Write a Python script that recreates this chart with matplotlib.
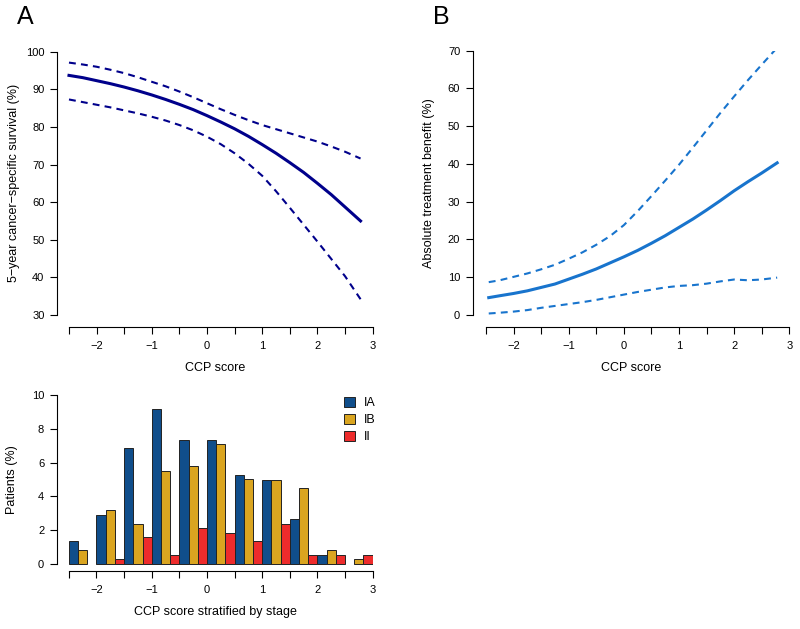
import numpy as np
import matplotlib.pyplot as plt
from matplotlib.patches import Patch

plt.rcParams['font.family'] = ['Liberation Sans', 'DejaVu Sans']

# panel A: 5-year cancer-specific survival vs CCP score
ccp_a = [-2.5, -2.25, -2.0, -1.75, -1.5, -1.25, -1.0, -0.75, -0.5, -0.25, 0.0,
         0.25, 0.5, 0.75, 1.0, 1.25, 1.5, 1.75, 2.0, 2.25, 2.5, 2.78]
surv_mid = [93.7, 93.1, 92.3, 91.5, 90.6, 89.6, 88.5, 87.3, 86.0, 84.6, 83.0,
            81.3, 79.5, 77.5, 75.3, 73.0, 70.5, 67.9, 65.0, 62.0, 58.7, 55.0]
surv_hi = [97.1, 96.6, 96.0, 95.2, 94.3, 93.2, 92.0, 90.8, 89.4, 87.9, 86.3,
           84.7, 83.2, 81.8, 80.5, 79.4, 78.3, 77.2, 76.1, 74.8, 73.4, 71.6]
surv_lo = [87.3, 86.6, 85.9, 85.2, 84.4, 83.6, 82.7, 81.7, 80.5, 79.1, 77.4,
           75.4, 73.0, 70.2, 67.0, 62.9, 58.5, 54.0, 49.5, 44.9, 40.3, 34.2]

# panel B: absolute treatment benefit vs CCP score
ccp_b = [-2.45, -2.25, -2.0, -1.75, -1.5, -1.25, -1.0, -0.75, -0.5, -0.25, 0.0,
         0.25, 0.5, 0.75, 1.0, 1.25, 1.5, 1.75, 2.0, 2.25, 2.5, 2.78]
benefit_mid = [4.6, 5.1, 5.7, 6.4, 7.3, 8.2, 9.5, 10.8, 12.2, 13.8, 15.4,
               17.1, 19.0, 21.0, 23.2, 25.4, 27.8, 30.3, 32.9, 35.3, 37.6, 40.3]
benefit_hi = [8.7, 9.2, 10.1, 11.0, 12.1, 13.3, 14.9, 16.6, 18.6, 20.9, 23.8,
              27.5, 31.5, 35.6, 39.8, 44.3, 48.9, 53.5, 57.9, 62.2, 66.3, 70.8]
benefit_lo = [0.4, 0.6, 0.9, 1.3, 1.9, 2.4, 2.9, 3.4, 4.0, 4.7, 5.4,
              6.1, 6.7, 7.3, 7.7, 7.9, 8.3, 8.9, 9.4, 9.2, 9.4, 9.9]

# panel C: CCP score histogram by stage (% patients, bins of 0.5)
bin_left = [-2.5, -2.0, -1.5, -1.0, -0.5, 0.0, 0.5, 1.0, 1.5, 2.0, 2.5]
stages = ['IA', 'IB', 'II']
pct_IA = [1.34, 2.9, 6.84, 9.17, 7.36, 7.36, 5.25, 4.99, 2.66, 0.53, 0.0]
pct_IB = [0.81, 3.18, 2.39, 5.52, 5.78, 7.10, 5.01, 4.99, 4.48, 0.81, 0.28]
pct_II = [0.0, 0.28, 1.6, 0.55, 2.11, 1.85, 1.34, 2.39, 0.53, 0.53, 0.53]
stage_colors = ['#104E8B', '#DAA520', '#EE2C2C']

W, H = 800, 629
fig = plt.figure(figsize=(8, 6.29), dpi=100)


def px_axes(x0, y0, x1, y1):
    # pixel box (left, top, right, bottom) -> figure axes
    return fig.add_axes([x0 / W, 1 - y1 / H, (x1 - x0) / W, (y1 - y0) / H])


def style(ax, xb, yb):
    for s in ['top', 'right']:
        ax.spines[s].set_visible(False)
    ax.spines['left'].set_bounds(*yb)
    ax.spines['bottom'].set_bounds(*xb)
    for s in ['left', 'bottom']:
        ax.spines[s].set_linewidth(0.8)
    ax.tick_params(direction='out', length=5, width=0.8, labelsize=8)
    ax.tick_params(axis='x', pad=5)
    ax.tick_params(axis='y', pad=4)
    xt = np.arange(-2.5, 3.01, 0.5)
    ax.set_xticks(xt)
    ax.set_xticklabels([('%d' % t).replace('-', '\u2212') if t == int(t) else '' for t in xt])


def px_label(ax, which, x, y):
    axis = ax.xaxis if which == 'x' else ax.yaxis
    axis.set_label_coords(x / W, 1 - y / H, transform=fig.transFigure)


score_ticks_lim = (-2.5, 3.0)
dash = (3.3, 2.5)

# A
axA = px_axes(57, 51.7, 372.7, 327)
axA.plot(ccp_a, surv_mid, color='#00008B', lw=2.2)
axA.plot(ccp_a, surv_hi, color='#00008B', lw=1.5, dashes=dash)
axA.plot(ccp_a, surv_lo, color='#00008B', lw=1.5, dashes=dash)
axA.set_xlim(-2.717, 3.0)
axA.set_ylim(26.81, 100)
axA.set_yticks(range(30, 101, 10))
style(axA, score_ticks_lim, (30, 100))
axA.set_xlabel('CCP score', fontsize=9)
px_label(axA, 'x', 215, 362)
axA.set_ylabel('5\u2212year cancer\u2212specific survival (%)', fontsize=9)
px_label(axA, 'y', 20, 183)

# B
axB = px_axes(472.7, 50.7, 789.3, 326.7)
axB.plot(ccp_b, benefit_mid, color='#1874CD', lw=2.2)
axB.plot(ccp_b, benefit_hi, color='#1874CD', lw=1.5, dashes=dash)
axB.plot(ccp_b, benefit_lo, color='#1874CD', lw=1.5, dashes=dash)
axB.set_xlim(-2.741, 3.0)
axB.set_ylim(-3.1, 70)
axB.set_yticks(range(0, 71, 10))
style(axB, score_ticks_lim, (0, 70))
axB.set_xlabel('CCP score', fontsize=9)
px_label(axB, 'x', 631, 362)
axB.set_ylabel('Absolute treatment benefit (%)', fontsize=9)
px_label(axB, 'y', 435, 183)

# C
axC = px_axes(56.7, 395, 372.7, 570.7)
bw = 0.5 / 3
for i, (vals, col) in enumerate(zip([pct_IA, pct_IB, pct_II], stage_colors)):
    xs = [b + bw * (i + 0.5) for b, v in zip(bin_left, vals) if v > 0]
    hs = [v for v in vals if v > 0]
    axC.bar(xs, hs, width=bw, color=col, edgecolor='#222222', linewidth=0.7)
axC.set_xlim(-2.72, 3.0)
axC.set_ylim(-0.4, 10)
axC.set_yticks(range(0, 11, 2))
style(axC, score_ticks_lim, (0, 10))
axC.set_xlabel('CCP score stratified by stage', fontsize=9)
px_label(axC, 'x', 215, 606)
axC.set_ylabel('Patients (%)', fontsize=9)
px_label(axC, 'y', 18, 480)
handles = [Patch(facecolor=c, edgecolor='#222222', linewidth=0.7) for c in stage_colors]
axC.legend(handles, stages, loc='upper left', bbox_to_anchor=(344 / W, 1 - 397 / H),
           bbox_transform=fig.transFigure, frameon=False, fontsize=9,
           handlelength=0.9, handleheight=0.9, handletextpad=0.7,
           labelspacing=0.35, borderaxespad=0, borderpad=0)

fig.text(25 / W, 1 - 17 / H, 'A', fontsize=18, ha='center', va='center')
fig.text(441 / W, 1 - 17 / H, 'B', fontsize=18, ha='center', va='center')

fig.savefig('out.png', dpi=100)
